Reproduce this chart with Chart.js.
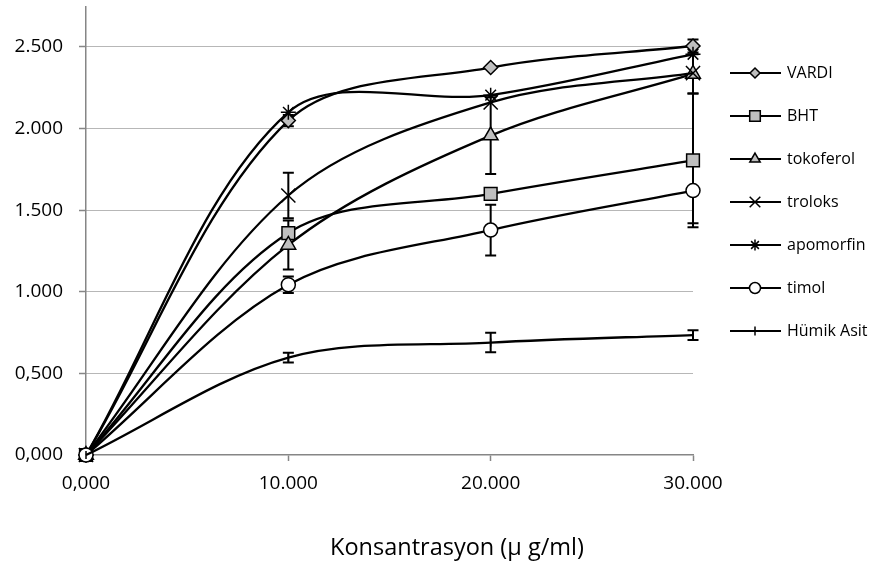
<!DOCTYPE html>
<html>
<head>
<meta charset="utf-8">
<script src="https://cdn.jsdelivr.net/npm/chart.js@4/dist/chart.umd.min.js"></script>
<style>
  html, body { margin: 0; padding: 0; background: #fff; }
  #wrap { width: 877px; height: 569px; }
</style>
</head>
<body>
<div id="wrap"><canvas id="chart" width="877" height="569"></canvas></div>
<script>
'use strict';

// concentration (µg/ml) on x
var concentrations = [0, 10000, 20000, 30000];

// series values
var vardi     = [0, 2.049, 2.374, 2.506];
var bht       = [0, 1.360, 1.600, 1.805];
var tokoferol = [0, 1.287, 1.957, 2.335];
var troloks   = [0, 1.590, 2.160, 2.340];
var apomorfin = [0, 2.100, 2.205, 2.455];
var timol     = [0, 1.043, 1.378, 1.620];
var humikAsit = [0, 0.597, 0.689, 0.735];

// error bars (+/-)
var vardiErr     = [0, 0.035, 0, 0.040];
var bhtErr       = [0, 0, 0, 0.410];
var tokoferolErr = [0, 0.150, 0.235, 0.120];
var troloksErr   = [0, 0.140, 0, 0];
var apomorfinErr = [0, 0, 0, 0];
var timolErr     = [0, 0.050, 0.155, 0.200];
var humikErr     = [0, 0.030, 0.060, 0.030];

var seriesNames = ['VARDI', 'BHT', 'tokoferol', 'troloks', 'apomorfin', 'timol', 'Hümik Asit'];

// tick labels
var xTickValues = [0, 10000, 20000, 30000];
var xTickLabels = ['0,000', '10.000', '20.000', '30.000'];
var yTickValues = [0, 0.5, 1, 1.5, 2, 2.5];
var yTickLabels = ['0,000', '0,500', '1.000', '1.500', '2.000', '2.500'];

var xTitle = 'Konsantrasyon (μ g/ml)';

var FONT = "'Open Sans', 'Noto Sans', sans-serif";
var GREY = '#bfbfbf';

function pts(values) {
  return values.map(function(v, i) { return {x: concentrations[i], y: v}; });
}

// marker per series: style, rotation, fill, radius in plot, radius in legend
var markers = [
  {style: 'rectRot',  rot: 0,  fill: GREY,   r: 7,   lr: 5},
  {style: 'rect',     rot: 0,  fill: GREY,   r: 9,   lr: 7.5},
  {style: 'triangle', rot: 0,  fill: GREY,   r: 8.5, lr: 6},
  {style: 'crossRot', rot: 0,  fill: '#000', r: 10,  lr: 7.5},
  {style: 'star',     rot: 0,  fill: '#000', r: 7.5, lr: 5.5},
  {style: 'circle',   rot: 0,  fill: '#fff', r: 7,   lr: 5.5},
  {style: 'line',     rot: 90, fill: '#000', r: 4,   lr: 4.5}
];

var allValues = [vardi, bht, tokoferol, troloks, apomorfin, timol, humikAsit];
var allErrors = [vardiErr, bhtErr, tokoferolErr, troloksErr, apomorfinErr, timolErr, humikErr];

var datasets = allValues.map(function(vals, i) {
  var m = markers[i];
  return {
    label: seriesNames[i],
    data: pts(vals),
    order: -i, // later series on top, like the spreadsheet
    borderColor: '#000',
    borderWidth: 2.3,
    tension: 0.33,
    fill: false,
    clip: false,
    pointStyle: m.style,
    pointRotation: m.rot,
    pointRadius: m.r,
    pointBackgroundColor: m.fill,
    pointBorderColor: '#000',
    pointBorderWidth: 1.5,
    legendRadius: m.lr
  };
});

// vertical error bars, drawn behind the lines and markers
var errorBars = {
  id: 'errorBars',
  beforeDatasetsDraw: function(chart) {
    var ctx = chart.ctx, xs = chart.scales.x, ys = chart.scales.y;
    ctx.save();
    ctx.strokeStyle = '#000';
    ctx.lineWidth = 2;
    allErrors.forEach(function(errs, i) {
      errs.forEach(function(e, j) {
        if (!e) return;
        var v = allValues[i][j];
        var px = xs.getPixelForValue(concentrations[j]);
        var top = ys.getPixelForValue(v + e);
        var bot = ys.getPixelForValue(v - e);
        ctx.beginPath();
        ctx.moveTo(px, top); ctx.lineTo(px, bot);
        ctx.moveTo(px - 5.5, top); ctx.lineTo(px + 5.5, top);
        ctx.moveTo(px - 5.5, bot); ctx.lineTo(px + 5.5, bot);
        ctx.stroke();
      });
    });
    ctx.restore();
  }
};

// legend at right: line + marker + name, and the x axis title
var sideLegend = {
  id: 'sideLegend',
  afterDraw: function(chart) {
    var ctx = chart.ctx, area = chart.chartArea;
    var x0 = area.right + 37, x1 = area.right + 88, xm = area.right + 62;
    ctx.save();
    chart.data.datasets.forEach(function(ds, i) {
      var y = 73 + i * 43;
      ctx.strokeStyle = '#000';
      ctx.lineWidth = 2;
      ctx.beginPath(); ctx.moveTo(x0, y); ctx.lineTo(x1, y); ctx.stroke();
      ctx.fillStyle = ds.pointBackgroundColor;
      ctx.lineWidth = 1.5;
      Chart.helpers.drawPoint(ctx, {
        pointStyle: ds.pointStyle, rotation: ds.pointRotation,
        radius: ds.legendRadius, borderWidth: 1.5
      }, xm, y);
      ctx.fillStyle = '#000';
      ctx.font = '16px ' + FONT;
      ctx.textAlign = 'left';
      ctx.textBaseline = 'middle';
      ctx.fillText(ds.label, area.right + 94, y);
    });
    ctx.font = '23.5px ' + FONT;
    ctx.textAlign = 'center';
    ctx.textBaseline = 'middle';
    ctx.fillStyle = '#000';
    ctx.fillText(xTitle, 457, 548);
    ctx.restore();
  }
};

new Chart(document.getElementById('chart'), {
  type: 'line',
  data: {datasets: datasets},
  plugins: [errorBars, sideLegend],
  options: {
    responsive: false,
    animation: false,
    devicePixelRatio: 1,
    layout: {autoPadding: false, padding: {left: 0, right: 184, top: 7, bottom: 0}},
    plugins: {legend: {display: false}, tooltip: {enabled: false}},
    scales: {
      x: {
        type: 'linear', min: 0, max: 30000,
        afterBuildTicks: function(s) { s.ticks = xTickValues.map(function(v) { return {value: v}; }); },
        afterFit: function(s) { s.height = 114; },
        ticks: {
          callback: function(v, i) { return xTickLabels[i]; },
          font: {family: FONT, size: 19}, color: '#000', padding: 11, maxRotation: 0
        },
        grid: {drawOnChartArea: false, tickLength: 6, tickColor: '#868686', tickWidth: 1.5},
        border: {color: '#868686', width: 1.5}
      },
      y: {
        min: 0, max: 2.745,
        afterBuildTicks: function(s) { s.ticks = yTickValues.map(function(v) { return {value: v}; }); },
        afterFit: function(s) { s.width = 86; s.paddingTop = 0; s.paddingBottom = 0; },
        ticks: {
          callback: function(v, i) { return yTickLabels[i]; },
          font: {family: FONT, size: 19}, color: '#000', padding: 16
        },
        grid: {
          color: function(c) { return c.tick && c.tick.value === 0 ? 'rgba(0,0,0,0)' : '#6e6e6e'; },
          lineWidth: 1, tickLength: 7, tickColor: '#868686', tickWidth: 1.5
        },
        border: {color: '#868686', width: 1.5, dash: [1, 1]}
      }
    }
  }
});
</script>
</body>
</html>
